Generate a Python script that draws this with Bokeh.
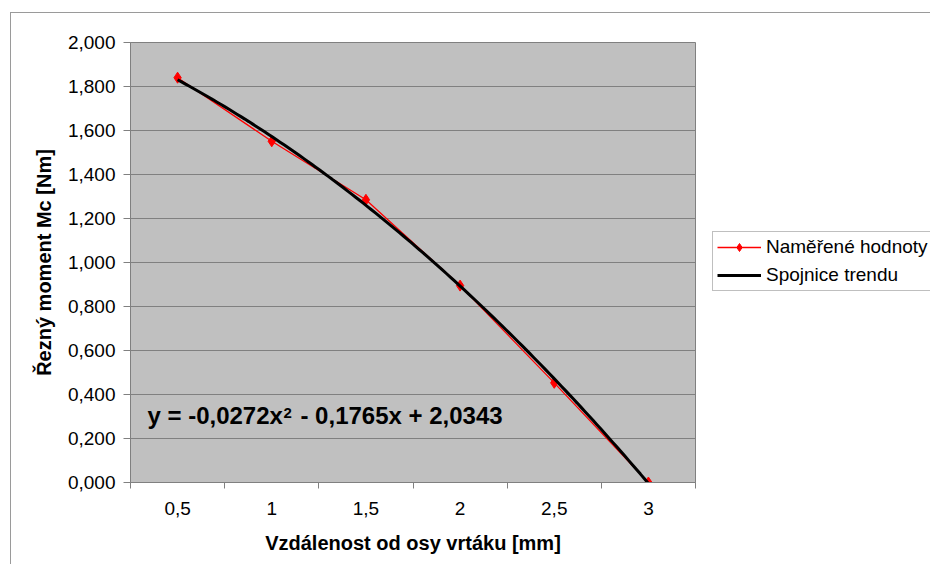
import numpy as np
from bokeh.plotting import figure
from bokeh.layouts import row
from bokeh.models import (FixedTicker, Legend, LegendItem, Label,
                          ColumnDataSource, Range1d)
from bokeh.embed import file_html
from bokeh.resources import INLINE

# ---- data ----
distance_labels = ["0,5", "1", "1,5", "2", "2,5", "3"]
category_index = [1, 2, 3, 4, 5, 6]
measured_moment = [1.840, 1.551, 1.285, 0.895, 0.453, 0.000]
trend_coeffs = [-0.0272, -0.1765, 2.0343]  # y = a*x^2 + b*x + c (x = category index)
y_ticks = [0.0, 0.2, 0.4, 0.6, 0.8, 1.0, 1.2, 1.4, 1.6, 1.8, 2.0]
y_tick_labels = ["0,000", "0,200", "0,400", "0,600", "0,800", "1,000",
                 "1,200", "1,400", "1,600", "1,800", "2,000"]
x_title = "Vzdálenost od osy vrtáku [mm]"
y_title = "Řezný moment Mc [Nm]"
series_name = "Naměřené hodnoty"
trend_name = "Spojnice trendu"

FONT = "Liberation Sans"
GRAY = "#808080"

# style dictionaries
RED_LINE = dict(line_color="red", line_width=1.3)
RED_PTS = dict(marker="diamond", size=11, fill_color="red", line_color="red")
TREND_LINE = dict(line_color="black", line_width=3)

p = figure(frame_width=565, frame_height=440, output_backend="svg", toolbar_location=None,
           x_range=Range1d(0.5, 6.5), y_range=Range1d(0, 2.0),
           min_border_left=130, min_border_right=5, min_border_top=42,
           min_border_bottom=82)

p.background_fill_color = "#c0c0c0"
p.border_fill_alpha = 0
p.outline_line_color = GRAY
p.outline_line_width = 1

# grid
p.xgrid.grid_line_color = None
p.ygrid.grid_line_color = GRAY
p.ygrid.grid_line_width = 1

# x axis: labels at categories, ticks between categories
xt = FixedTicker(ticks=category_index,
                 minor_ticks=[c - 0.5 for c in category_index] + [category_index[-1] + 0.5])
p.xaxis.ticker = xt
p.xaxis.major_label_overrides = {c: l for c, l in zip(category_index, distance_labels)}
p.xaxis.major_tick_line_color = None
p.xaxis.minor_tick_line_color = GRAY
p.xaxis.minor_tick_in = 0
p.xaxis.minor_tick_out = 6
p.xaxis.axis_line_color = GRAY
p.xaxis.major_label_text_font = FONT
p.xaxis.major_label_text_font_size = "19px"
p.xaxis.major_label_text_color = "black"
p.xaxis.major_label_standoff = 13
p.xaxis.axis_label = x_title
p.xaxis.axis_label_text_font = FONT
p.xaxis.axis_label_text_font_size = "20px"
p.xaxis.axis_label_text_font_style = "bold"
p.xaxis.axis_label_text_color = "black"
p.xaxis.axis_label_standoff = 14

# y axis
p.yaxis.ticker = FixedTicker(ticks=y_ticks)
p.yaxis.major_label_overrides = {t: l for t, l in zip(y_ticks, y_tick_labels)}
p.yaxis.major_tick_line_color = GRAY
p.yaxis.major_tick_in = 0
p.yaxis.major_tick_out = 7
p.yaxis.minor_tick_line_color = None
p.yaxis.axis_line_color = GRAY
p.yaxis.major_label_text_font = FONT
p.yaxis.major_label_text_font_size = "19px"
p.yaxis.major_label_text_color = "black"
p.yaxis.major_label_standoff = 8
p.yaxis.axis_label = y_title
p.yaxis.axis_label_text_font = FONT
p.yaxis.axis_label_text_font_size = "20px"
p.yaxis.axis_label_text_font_style = "bold"
p.yaxis.axis_label_text_color = "black"
p.yaxis.axis_label_standoff = 10

# measured series
src = ColumnDataSource(dict(x=category_index, y=measured_moment))
r_line = p.line("x", "y", source=src, **RED_LINE)
r_pts = p.scatter("x", "y", source=src, **RED_PTS)

# trendline from the displayed polynomial
tx = np.linspace(category_index[0], category_index[-1], 120)
ty = np.polyval(trend_coeffs, tx)
r_trend = p.line(tx, ty, **TREND_LINE)

# equation label
eq_x, eq_y = 0.68, 0.241
p.add_layout(Label(x=eq_x, y=eq_y, text="y = -0,0272x", text_font=FONT,
                   text_font_size="24px", text_font_style="bold",
                   text_color="black"))
p.add_layout(Label(x=eq_x, y=eq_y + 0.05, x_offset=136, text="2", text_font=FONT,
                   text_font_size="15px", text_font_style="bold",
                   text_color="black"))
p.add_layout(Label(x=eq_x, y=eq_y, x_offset=153, text="- 0,1765x + 2,0343",
                   text_font=FONT, text_font_size="24px", text_font_style="bold",
                   text_color="black"))

# legend panel to the right of the chart (legend-only renderers, nothing drawn)
q = figure(width=230, height=564, output_backend="svg", toolbar_location=None,
           x_range=Range1d(0, 1), y_range=Range1d(0, 1),
           x_axis_location=None, y_axis_location=None, min_border=0)
q.outline_line_color = None
q.background_fill_alpha = 0
q.border_fill_alpha = 0
q.grid.grid_line_color = None
blank = ColumnDataSource(dict(x=[np.nan], y=[np.nan]))
l_line = q.line("x", "y", source=blank, **RED_LINE)
l_pts = q.scatter("x", "y", source=blank, **RED_PTS)
l_trend = q.line("x", "y", source=blank, **TREND_LINE)

legend = Legend(items=[LegendItem(label=series_name, renderers=[l_line, l_pts]),
                       LegendItem(label=trend_name, renderers=[l_trend])],
                location=(12, 191), orientation="vertical",
                label_text_font=FONT, label_text_font_size="19px",
                label_text_color="black", glyph_width=44, glyph_height=20,
                label_height=20, label_standoff=5, spacing=6, padding=4,
                margin=0, border_line_color=GRAY, border_line_width=1,
                background_fill_color="white", background_fill_alpha=1.0)
q.add_layout(legend, "center")

layout = row(p, q, spacing=0)
# outer chart border (left and top edges visible, as in the reference)
layout.styles = {
    "background-color": "white",
    "background-image": "linear-gradient(#9a9a9a,#9a9a9a), linear-gradient(#9a9a9a,#9a9a9a)",
    "background-size": "1px 100%, 100% 1px",
    "background-position": "10px 12px, 10px 12px",
    "background-repeat": "no-repeat",
}

open("out.html", "w").write(file_html(layout, INLINE))
